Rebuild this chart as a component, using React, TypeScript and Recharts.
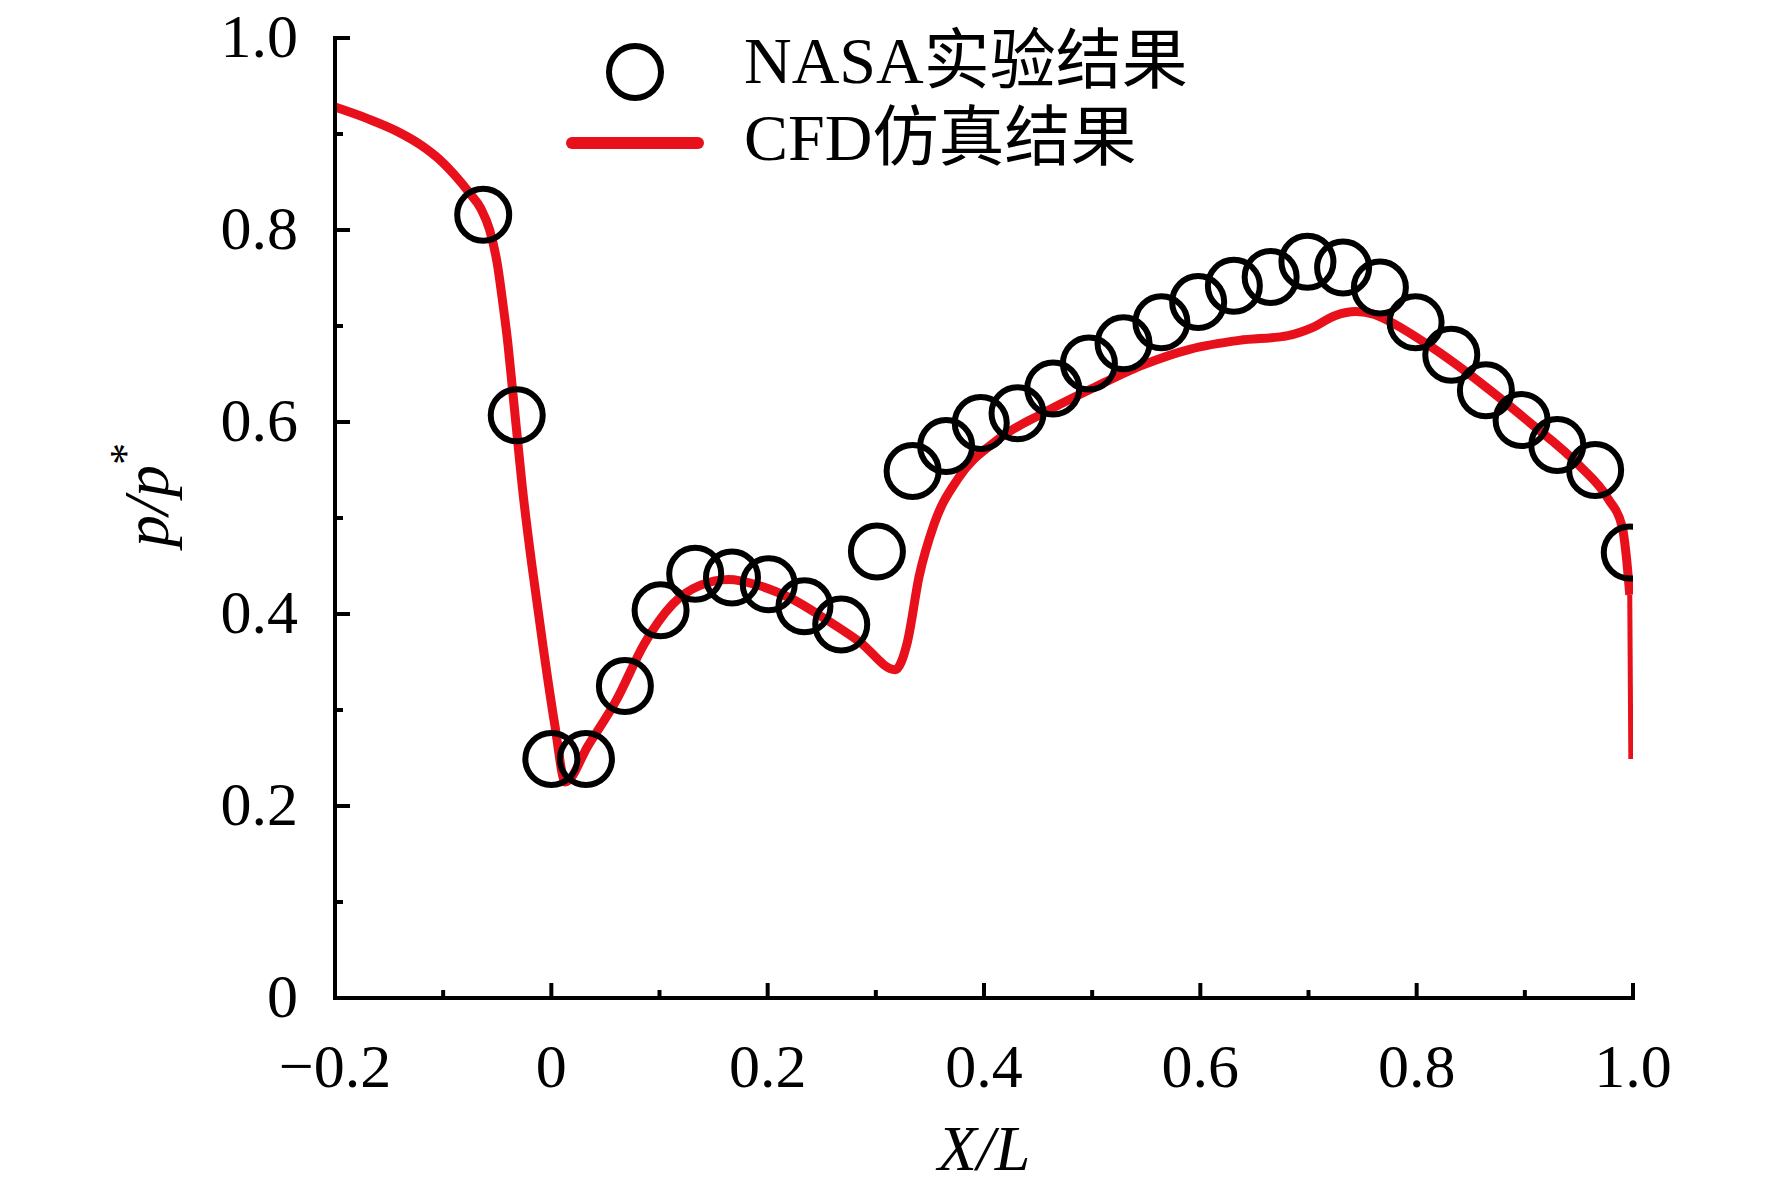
import React from "react";
import { ComposedChart, XAxis, YAxis, Scatter, Line, Legend } from "recharts";

// ---- data ----
const nasaX = [
  -0.063, -0.032, 0.0, 0.032, 0.068, 0.101, 0.133, 0.167, 0.201, 0.234, 0.268,
  0.301, 0.334, 0.365, 0.397, 0.431, 0.464, 0.497, 0.529, 0.564, 0.598, 0.631,
  0.665, 0.699, 0.732, 0.766, 0.799, 0.832, 0.864, 0.897, 0.93, 0.965, 0.997,
];
const nasaY = [
  0.816, 0.607, 0.249, 0.249, 0.325, 0.404, 0.442, 0.438, 0.431, 0.408, 0.389,
  0.465, 0.549, 0.575, 0.599, 0.609, 0.635, 0.661, 0.682, 0.704, 0.725, 0.742,
  0.751, 0.767, 0.761, 0.74, 0.704, 0.67, 0.633, 0.602, 0.576, 0.55, 0.464,
];

const cfdX = [
  -0.2, -0.17, -0.143, -0.12, -0.104, -0.09, -0.076, -0.065, -0.057, -0.05,
  -0.045, -0.04, -0.036, -0.032, -0.027, -0.018, -0.008, 0.003, 0.013, 0.034,
  0.06, 0.086, 0.112, 0.138, 0.164, 0.191, 0.222, 0.253, 0.285, 0.318, 0.329,
  0.34, 0.354, 0.376, 0.412, 0.456, 0.502, 0.546, 0.591, 0.636, 0.681, 0.703,
  0.725, 0.744, 0.761, 0.771, 0.815, 0.86, 0.905, 0.95, 0.977, 0.99, 0.994,
  0.997,
];
const cfdY = [
  0.928, 0.916, 0.903, 0.888, 0.874, 0.858, 0.839, 0.822, 0.8, 0.765, 0.725,
  0.68, 0.635, 0.59, 0.534, 0.451, 0.369, 0.286, 0.225, 0.263, 0.31, 0.369,
  0.41, 0.43, 0.436, 0.43, 0.416, 0.395, 0.371, 0.342, 0.37, 0.439, 0.494,
  0.541, 0.581, 0.61, 0.636, 0.659, 0.676, 0.685, 0.69, 0.698, 0.711, 0.715,
  0.712, 0.707, 0.677, 0.64, 0.599, 0.555, 0.52, 0.491, 0.458, 0.42,
];
const tailX = [0.997, 0.998];
const tailY = [0.42, 0.249];

const xTicks = [-0.2, -0.1, 0, 0.1, 0.2, 0.3, 0.4, 0.5, 0.6, 0.7, 0.8, 0.9, 1.0];
const xTickLabels = ["\u22120.2", "0", "0.2", "0.4", "0.6", "0.8", "1.0"];
const yTicks = [0, 0.1, 0.2, 0.3, 0.4, 0.5, 0.6, 0.7, 0.8, 0.9, 1.0];
const yTickLabels = ["0", "0.2", "0.4", "0.6", "0.8", "1.0"];
const seriesNames = ["NASA实验结果", "CFD仿真结果"];

const nasaData = nasaX.map((x, i) => ({ x, y: nasaY[i] }));
const cfdData = cfdX.map((x, i) => ({ x, y: cfdY[i] }));
const tailData = tailX.map((x, i) => ({ x, y: tailY[i] }));

// ---- styles ----
const FONT = "'Liberation Serif', 'Times New Roman', 'Noto Sans CJK SC', serif";
const RED = "#e8101a";
const TICK_FS = 62;

const XTick = (props: any) => {
  const { x, y, payload } = props;
  const k = Math.round(payload.value * 10);
  const major = (k + 2) % 2 === 0;
  const idx = (k + 2) / 2;
  return (
    <g>
      <line x1={x} x2={x} y1={y} y2={y - (major ? 15 : 8)} stroke="#000" strokeWidth={4} />
      {major && (
        <text x={x} y={y + 89} textAnchor="middle" fontSize={TICK_FS} fontFamily={FONT} fill="#000">
          {xTickLabels[idx]}
        </text>
      )}
    </g>
  );
};

const YTick = (props: any) => {
  const { x, y, payload } = props;
  const k = Math.round(payload.value * 10);
  const major = k % 2 === 0;
  return (
    <g>
      <line x1={x} x2={x + (major ? 15 : 8)} y1={y} y2={y} stroke="#000" strokeWidth={4} />
      {major && (
        <text x={x - 37} y={y + 19} textAnchor="end" fontSize={TICK_FS} fontFamily={FONT} fill="#000">
          {yTickLabels[k / 2]}
        </text>
      )}
    </g>
  );
};

const Ring = (props: any) => {
  const { cx, cy } = props;
  if (cx == null || cy == null) return null;
  return <circle cx={cx} cy={cy} r={26} fill="none" stroke="#000" strokeWidth={6} />;
};

const XLabel = (props: any) => {
  const vb = props.viewBox || { x: 0, y: 0, width: 0, height: 0 };
  const cx = vb.x + vb.width / 2;
  return (
    <text x={cx} y={vb.y + 172} textAnchor="middle" fontSize={64} fontFamily={FONT} fontStyle="italic" fill="#000">
      X/L
    </text>
  );
};

const YLabel = (props: any) => {
  const vb = props.viewBox || { x: 0, y: 0, width: 0, height: 0 };
  const cx = vb.x + 168;
  const cy = vb.y + vb.height / 2 - 23;
  return (
    <text
      x={cx}
      y={cy}
      transform={`rotate(-90 ${cx} ${cy})`}
      textAnchor="middle"
      fontSize={64}
      fontFamily={FONT}
      fontStyle="italic"
      fill="#000"
    >
      p/p
      <tspan fontSize={44} dy={-28} fontStyle="normal">*</tspan>
    </text>
  );
};

const LegendContent = () => (
  <svg width={700} height={190} style={{ display: "block", overflow: "visible" }}>
    <circle cx={95} cy={72} r={26} fill="none" stroke="#000" strokeWidth={6} />
    <text x={204} y={83} fontSize={66} fontFamily={FONT} fill="#000">
      {seriesNames[0]}
    </text>
    <line x1={32} x2={158} y1={143} y2={143} stroke={RED} strokeWidth={12} strokeLinecap="round" />
    <text x={204} y={160} fontSize={66} fontFamily={FONT} fill="#000">
      {seriesNames[1]}
    </text>
  </svg>
);

export default function App() {
  return (
    <div style={{ position: "absolute", left: 0, top: 0, background: "#fff" }}>
      <ComposedChart width={1772} height={1187} margin={{ top: 38, right: 139, left: 0, bottom: 0 }}>
        <XAxis
          type="number"
          dataKey="x"
          domain={[-0.2, 1.0]}
          ticks={xTicks}
          interval={0}
          allowDataOverflow
          height={189}
          tickSize={0}
          tickMargin={0}
          tickLine={false}
          tick={<XTick />}
          axisLine={{ stroke: "#000", strokeWidth: 4, strokeLinecap: "square" }}
          label={(p: any) => <XLabel {...p} />}
        />
        <YAxis
          type="number"
          dataKey="y"
          domain={[0, 1]}
          ticks={yTicks}
          interval={0}
          width={335}
          tickSize={0}
          tickMargin={0}
          tickLine={false}
          tick={<YTick />}
          axisLine={{ stroke: "#000", strokeWidth: 4, strokeLinecap: "square" }}
          label={(p: any) => <YLabel {...p} />}
        />
        <Legend
          verticalAlign="middle"
          layout="horizontal"
          content={<LegendContent />}
          wrapperStyle={{ position: "absolute", left: 540, top: 0, width: 700, height: 190 }}
        />
        <Scatter name={seriesNames[0]} data={nasaData} shape={<Ring />} isAnimationActive={false} />
        <Line
          name={seriesNames[1]}
          data={cfdData}
          dataKey="y"
          type="monotone"
          stroke={RED}
          strokeWidth={9}
          dot={false}
          activeDot={false}
          isAnimationActive={false}
        />
        <Line
          legendType="none"
          data={tailData}
          dataKey="y"
          type="linear"
          stroke={RED}
          strokeWidth={5}
          dot={false}
          activeDot={false}
          isAnimationActive={false}
        />
      </ComposedChart>
    </div>
  );
}
